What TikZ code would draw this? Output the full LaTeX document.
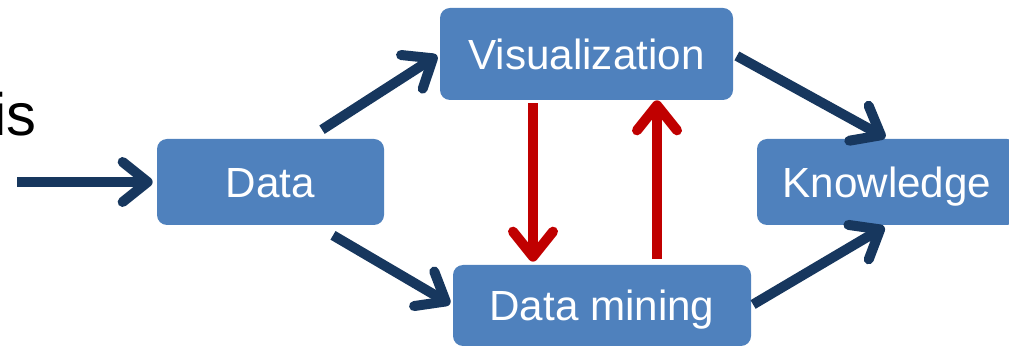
\documentclass[tikz,border=0pt]{standalone}
\usepackage{fontspec}
\setmainfont{Liberation Sans}
\usepackage{xcolor}
\usepackage{tikz}
\usetikzlibrary{arrows.meta, positioning, calc}
\definecolor{boxblue}{HTML}{4F81BD}
\definecolor{navyline}{HTML}{17375E}
\definecolor{darkred}{HTML}{C00000}

\begin{document}
\begin{tikzpicture}[
    block/.style={rectangle, fill=boxblue, rounded corners=0.2cm, inner sep=0pt, text=white, text height=17.4pt, text depth=0pt, font=\fontsize{24}{28}\selectfont},
    arrow/.style={-{Straight Barb[length=0.5cm, width=0.8cm, round]}, line width=0.2cm, navyline},
    redarrow/.style={-{Straight Barb[length=0.5cm, width=0.8cm, round]}, line width=0.2cm, darkred}
]
\useasboundingbox (0,0) rectangle (20.18,6.96);

\node[block, minimum width=4.54cm, minimum height=1.72cm] (data) at (5.41,3.32) {Data};
\node[block, minimum width=5.86cm, minimum height=1.84cm] (vis) at (11.73,5.88) {Visualization};
\node[block, minimum width=5.96cm, minimum height=1.62cm] (mining) at (12.04,0.85) {Data mining};
\node[block, minimum width=5.2cm, minimum height=1.72cm] (know) at (17.74,3.32) {Knowledge};
\node[anchor=base west, inner sep=0pt, font=\fontsize{34}{40}\selectfont] (title) at (-0.14,4.24) {is};

\coordinate (in) at (0.34,3.32);
\coordinate (down) at ([xshift=-1.07cm]vis.south);
\coordinate (up) at ([xshift=1.41cm]vis.south);

\draw[arrow, shorten >=0.08cm] (in) -- (data.west);
\draw[arrow, shorten >=0.06cm] ([shift={(1.03,0.18)}]data.north) -- (vis.west);
\draw[arrow, shorten >=0.06cm] ([shift={(1.25,-0.2)}]data.south) -- (mining.west);
\draw[arrow, shorten <=0.08cm, shorten >=0.04cm] (vis.east) -- (know.north);
\draw[arrow, shorten <=0.04cm, shorten >=0.06cm] (mining.east) -- (know.south);

\draw[redarrow, shorten <=0.06cm, shorten >=0.06cm] (down) -- (down |- mining.north);
\draw[redarrow, shorten <=0.12cm] (up |- mining.north) -- (up);

\end{tikzpicture}
\end{document}
